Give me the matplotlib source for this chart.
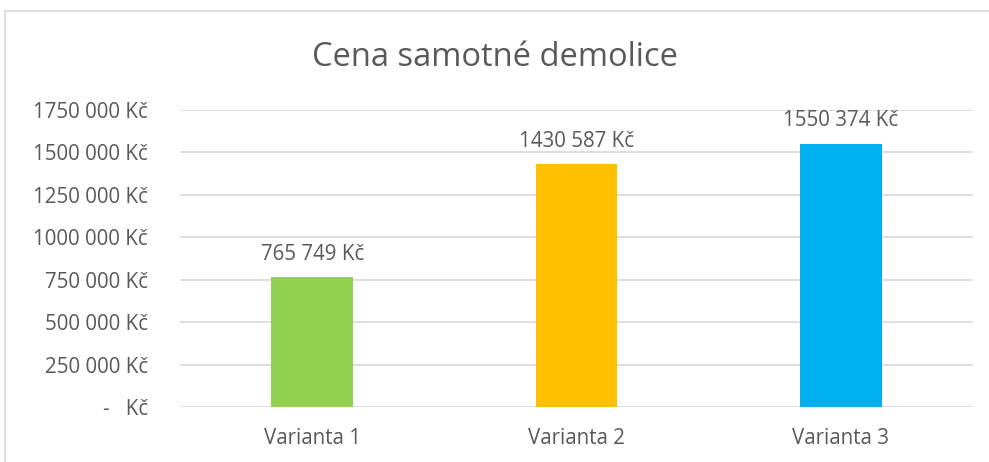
import matplotlib.pyplot as plt
from matplotlib.patches import Rectangle

categories = ['Varianta 1', 'Varianta 2', 'Varianta 3']
values = [765749, 1430587, 1550374]
value_labels = ['765 749 Kč', '1430 587 Kč', '1550 374 Kč']
colors = ['#92D050', '#FFC000', '#00B0F0']
yticks = [0, 250000, 500000, 750000, 1000000, 1250000, 1500000, 1750000]
ytick_labels = ['-   Kč', '250 000 Kč', '500 000 Kč', '750 000 Kč', '1000 000 Kč',
                '1250 000 Kč', '1500 000 Kč', '1750 000 Kč']

plt.rcParams['font.family'] = ['Open Sans', 'DejaVu Sans']
txt = '#595959'
fs = 14.8

fig = plt.figure(figsize=(9.89, 4.62), dpi=100)
# rámeček grafu
fig.patches.append(Rectangle((5 / 989, -0.1), 1.1, 1 - 11 / 462 + 0.1, transform=fig.transFigure,
                             fill=False, edgecolor='#D9D9D9', linewidth=1.2))

ax = fig.add_axes([180 / 989, 55 / 462, 793 / 989, 297 / 462])
x = range(len(categories))
ax.bar(x, values, width=0.31, color=colors, zorder=3)
for i, v in enumerate(values):
    ax.annotate(value_labels[i], (i, v), xytext=(0, 9), textcoords='offset points',
                ha='center', va='bottom', fontsize=fs, color=txt)

ax.set_xlim(-0.5, 2.5)
ax.set_ylim(0, 1750000)
ax.set_yticks(yticks)
ax.set_yticklabels(ytick_labels)
ax.set_xticks(list(x))
ax.set_xticklabels(categories)
ax.tick_params(length=0, labelsize=fs, labelcolor=txt)
ax.tick_params(axis='y', pad=23)
ax.tick_params(axis='x', pad=15)
ax.grid(axis='y', color='#D9D9D9', linewidth=1.2, zorder=0)
for s in ax.spines.values():
    s.set_visible(False)

fig.text(0.5, 1 - 57 / 462, 'Cena samotné demolice', ha='center', va='center', fontsize=23.5, color=txt)

fig.savefig('out.png', dpi=100)
